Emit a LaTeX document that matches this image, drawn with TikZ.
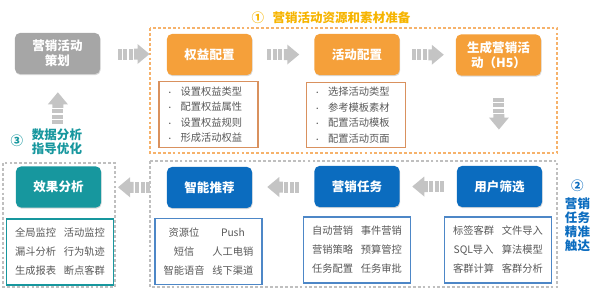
\documentclass[tikz,border=0pt]{standalone}
\usepackage{fontspec}
\setmainfont{Noto Sans CJK SC}
\usepackage{xcolor}
\usepackage{tikz}
\usetikzlibrary{calc, shadows}

\definecolor{mkorange}{HTML}{F5A03A}
\definecolor{mkblue}{HTML}{0B6CBF}
\definecolor{mkteal}{HTML}{17979E}
\definecolor{mkgray}{HTML}{A6A6A6}
\definecolor{mkgold}{HTML}{F6B400}
\definecolor{mktext}{HTML}{595959}
\definecolor{listorange}{HTML}{D9915E}
\definecolor{listblue}{HTML}{4D87C7}
\definecolor{framegray}{HTML}{BFBFBF}
\definecolor{frameorange}{HTML}{F6B26B}
\definecolor{arrowgray}{HTML}{C4C4C4}

\newcommand{\itm}[1]{{\tiny\textbullet}\hspace{5pt}#1}
\newcommand{\pair}[2]{\makebox[1.22cm]{#1}\makebox[1.22cm]{#2}}

\tikzset{
    barrow/.pic={
        \foreach \b in {-16,-10.5,-5}
            \fill[arrowgray] (\b,-5.5) rectangle (\b+4,5.5);
        \fill[arrowgray] (0.5,-5.5) -- (4,-5.5) -- (4,-10) -- (16,0)
            -- (4,10) -- (4,5.5) -- (0.5,5.5) -- cycle;
    }
}

\begin{document}
\begin{tikzpicture}[x=0.025cm, y=-0.025cm,
    box/.style={rounded corners=3.5pt, minimum width=2.125cm, minimum height=1.025cm,
        text=white, align=center, font=\fontsize{8.9}{11}\selectfont\bfseries,
        drop shadow={opacity=0.3, shadow xshift=0.4pt, shadow yshift=-0.8pt}},
    boxgray/.style={box, fill=mkgray},
    boxorange/.style={box, fill=mkorange},
    boxblue/.style={box, fill=mkblue},
    boxteal/.style={box, fill=mkteal},
    listtop/.style={draw=listorange, line width=0.8pt, fill=white, minimum width=2.475cm,
        minimum height=1.625cm, text width=2.1cm, text=mktext, align=left,
        font=\fontsize{7.3}{11}\selectfont},
    listgrid/.style={draw=#1, line width=0.8pt, fill=white, minimum width=2.5cm,
        minimum height=1.65cm, text=mktext, align=center, font=\fontsize{7.3}{13.5}\selectfont},
    note/.style={font=\fontsize{8.9}{10}\selectfont\bfseries, align=center}
]
    \useasboundingbox (0,0) rectangle (600,290);

    % 1. Khung
    \draw[frameorange, line width=0.8pt, dash pattern=on 2pt off 1.5pt] (150,28) rectangle (557,153);
    \draw[framegray, line width=0.8pt, dash pattern=on 2pt off 1.5pt] (3,163) rectangle (115,287);
    \draw[framegray, line width=0.8pt, dash pattern=on 2pt off 1.5pt] (150,161) rectangle (557,287);

    % 2. Hàng trên
    \node[boxgray] (plan) at (57.5,53.5) {营销活动\\策划};
    \node[boxorange] (rights) at (209.5,54.5) {权益配置};
    \node[boxorange] (actcfg) at (357,54.5) {活动配置};
    \node[boxorange] (gen) at (498.5,55) {生成营销活\\动（H5）};
    \node[listtop] (rightslist) at (208.5,114.5)
        {\itm{设置权益类型}\\\itm{配置权益属性}\\\itm{设置权益规则}\\\itm{形成活动权益}};
    \node[listtop] (actlist) at (356,115)
        {\itm{选择活动类型}\\\itm{参考模板素材}\\\itm{配置活动模板}\\\itm{配置活动页面}};

    % 3. Hàng dưới
    \node[boxteal] (effect) at (58.5,187) {效果分析};
    \node[boxblue] (recommend) at (209.5,187.5) {智能推荐};
    \node[boxblue] (task) at (357,186.5) {营销任务};
    \node[boxblue] (filter) at (499.5,186.5) {用户筛选};
    \node[listgrid=mkteal] (effectlist) at (60,252)
        {\pair{全局监控}{活动监控}\\\pair{漏斗分析}{行为轨迹}\\\pair{生成报表}{断点客群}};
    \node[listgrid=listblue] (reclist) at (208.5,251.5)
        {\pair{资源位}{Push}\\\pair{短信}{人工电销}\\\pair{智能语音}{线下渠道}};
    \node[listgrid=listblue] (tasklist) at (357,250)
        {\pair{自动营销}{事件营销}\\\pair{营销策略}{预算管控}\\\pair{任务配置}{任务审批}};
    \node[listgrid=listblue] (filterlist) at (498,250)
        {\pair{标签客群}{文件导入}\\\pair{SQL导入}{算法模型}\\\pair{客群计算}{客群分析}};

    % 4. Mũi tên
    \pic at ($(plan.east)!0.5!(rights.west)$) {barrow};
    \pic at ($(rights.east)!0.5!(actcfg.west)$) {barrow};
    \pic at ($(actcfg.east)!0.5!(gen.west)$) {barrow};
    \pic[rotate=-90] at ($(gen.south)!0.42!(filter.north)$) {barrow};
    \pic[rotate=180] at ($(filter.west)!0.5!(task.east)$) {barrow};
    \pic[rotate=180] at ($(task.west)!0.5!(recommend.east)$) {barrow};
    \pic[rotate=180] at ($(recommend.west)!0.5!(effect.east)$) {barrow};
    \pic[rotate=90] at ($(plan.south)!0.37!(effect.north)$) {barrow};

    % 5. Chú thích
    \node[note, text=mkgold] (title1) at (331,18) {①\hspace{6pt}营销活动资源和素材准备};
    \node[note, text=mkblue] (title2) at (577.5,216)
        {②\\[3pt]营销\\任务\\精准\\触达};
    \node[note, text=mkteal] (num3) at (17,141) {③};
    \node[note, text=mkteal] (title3) at (57,142) {数据分析\\指导优化};
\end{tikzpicture}
\end{document}
